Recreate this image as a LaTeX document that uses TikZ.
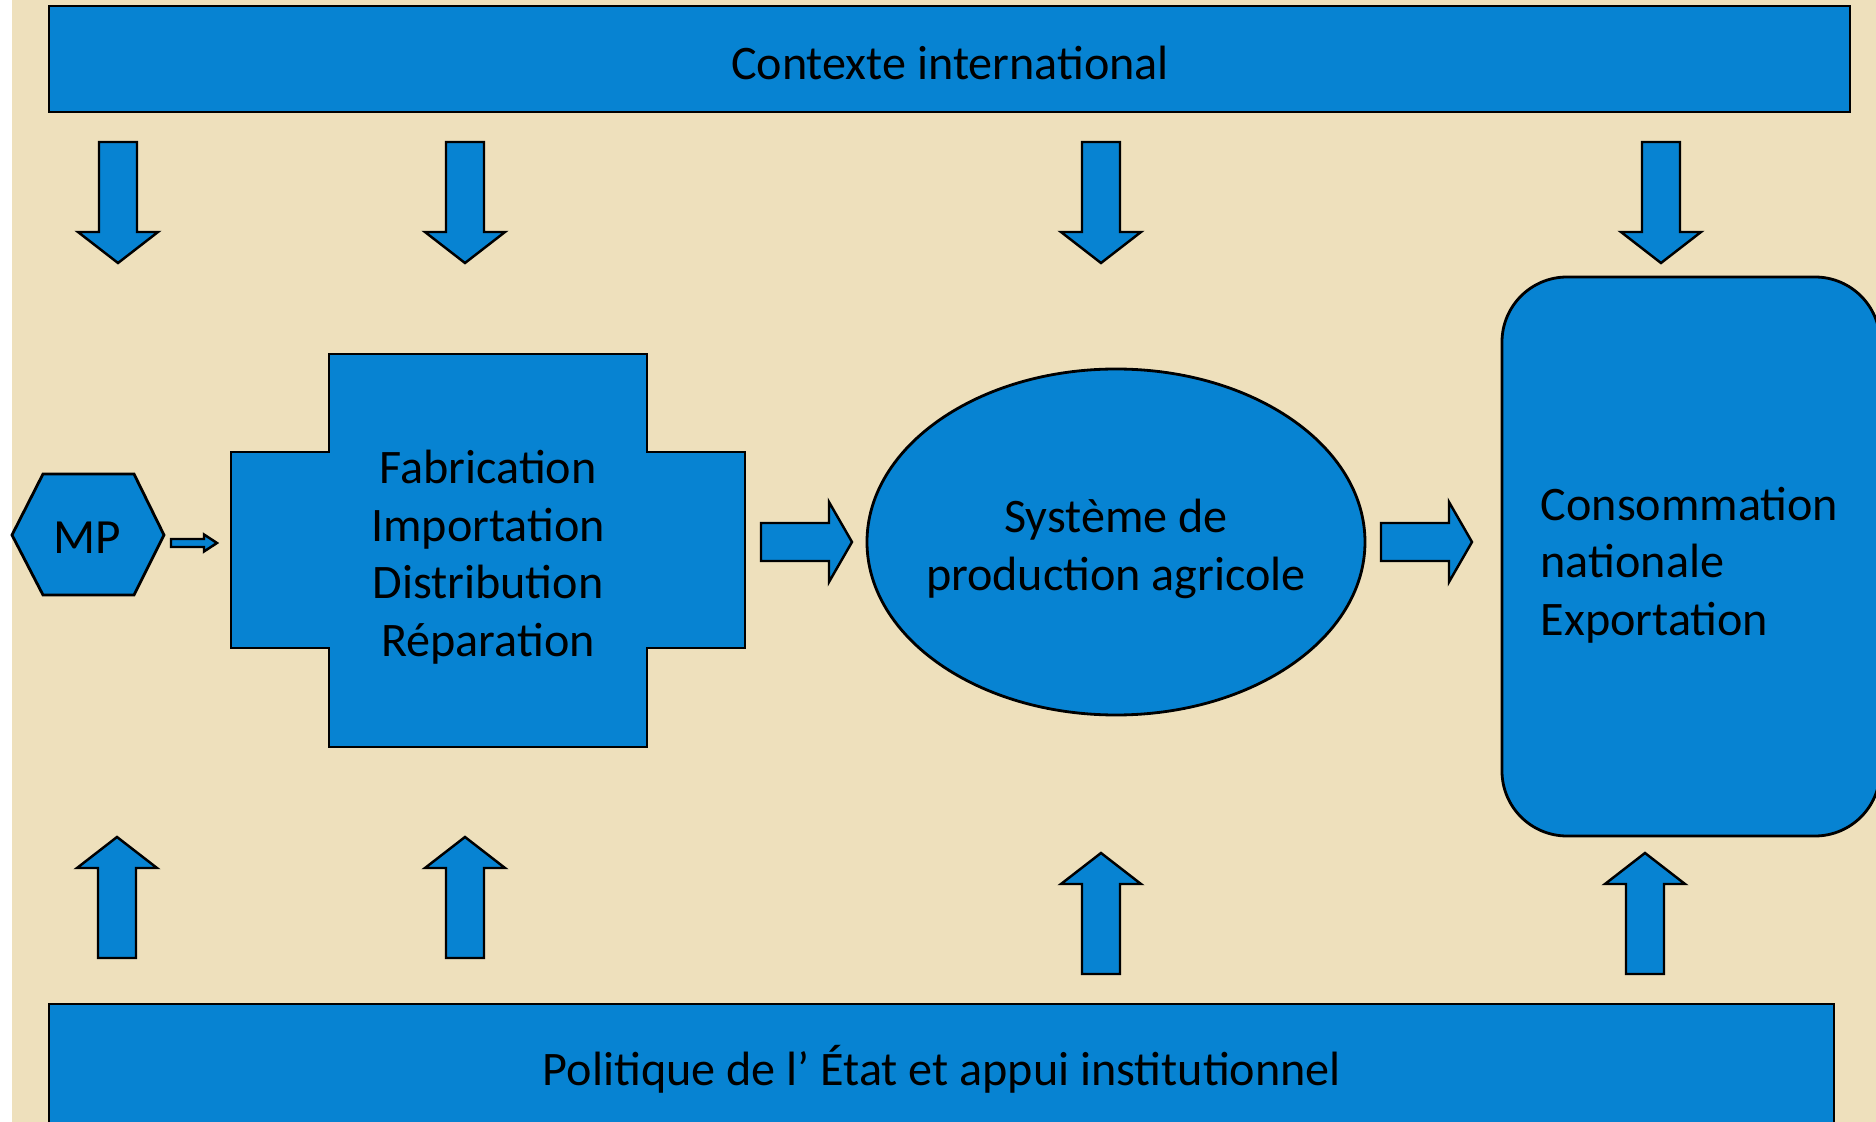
\documentclass[tikz,border=0pt]{standalone}
\usepackage{fontspec}
\setmainfont{Carlito}
\usetikzlibrary{shapes.geometric}
\definecolor{fond}{RGB}{238,224,188}
\definecolor{bleu}{RGB}{7,131,210}
\tikzset{
  bloc/.style={draw=black, fill=bleu, line width=0.8pt},
  texte/.style={font=\fontsize{13.7}{16.4}\selectfont, align=center, inner sep=0pt},
  % block arrow: length, head length, shaft half width, head half width
  pics/fleche/.style n args={4}{code={
    \draw[bloc, line width=0.7pt] (0,-#3) -- (#1-#2,-#3) -- (#1-#2,-#4) -- (#1,0)
      -- (#1-#2,#4) -- (#1-#2,#3) -- (0,#3) -- cycle;}}
}
\begin{document}
\begin{tikzpicture}[x=0.1mm, y=-0.1mm]
    \useasboundingbox (0,0) rectangle (1876,1122);
    \clip (0,0) rectangle (1876,1122);
    \fill[fond] (12,0) rectangle (1876,1122);
    \fill[white] (0,0) rectangle (12,1122);
    % bands
    \draw[bloc] (49,6) rectangle (1850,112);
    \node [texte] (contexte) at (950,63) {Contexte international};
    \draw[bloc] (49,1004) rectangle (1834,1140);
    \node [texte] (politique) at (942,1069) {Politique de l’ État et appui institutionnel};
    % arrows from the bands
    \pic [rotate=-90] at (118,142) {fleche={121}{31}{19}{40}};
    \pic [rotate=-90] at (465,142) {fleche={121}{31}{19}{40}};
    \pic [rotate=-90] at (1101,142) {fleche={121}{31}{19}{40}};
    \pic [rotate=-90] at (1661,142) {fleche={121}{31}{19}{40}};
    \pic [rotate=90] at (117,958) {fleche={121}{31}{19}{40}};
    \pic [rotate=90] at (465,958) {fleche={121}{31}{19}{40}};
    \pic [rotate=90] at (1101,974) {fleche={121}{31}{19}{40}};
    \pic [rotate=90] at (1645,974) {fleche={121}{31}{19}{40}};
    % MP
    \draw[bloc] (12,535) -- (43,474) -- (134,474) -- (164,535) -- (134,595) -- (43,595) -- cycle;
    \node [texte, font=\fontsize{14}{16}\selectfont] (mp) at (87,538) {MP};
    \pic at (171,543) {fleche={46}{13}{4}{8.5}};
    % industry
    \draw[bloc] (329,354) -- (647,354) -- (647,452) -- (745,452) -- (745,648) -- (647,648)
      -- (647,747) -- (329,747) -- (329,648) -- (231,648) -- (231,452) -- (329,452) -- cycle;
    \node [texte] (fabrication) at (488,557) {Fabrication\\Importation\\Distribution\\Réparation};
    \pic at (761,542) {fleche={91}{23}{19}{40}};
    % farming system
    \draw[bloc] (1116,542) ellipse [x radius=24.9mm, y radius=17.3mm];
    \node [texte] (systeme) at (1116,549) {Système de\\production agricole};
    \pic at (1381,542) {fleche={91}{23}{19}{40}};
    % outlets
    \draw[bloc, rounded corners=6.5mm] (1502,277) rectangle (1880,836);
    \node [texte, align=left, anchor=west] (consommation) at (1540,565) {Consommation\\nationale\\Exportation};
\end{tikzpicture}
\end{document}
